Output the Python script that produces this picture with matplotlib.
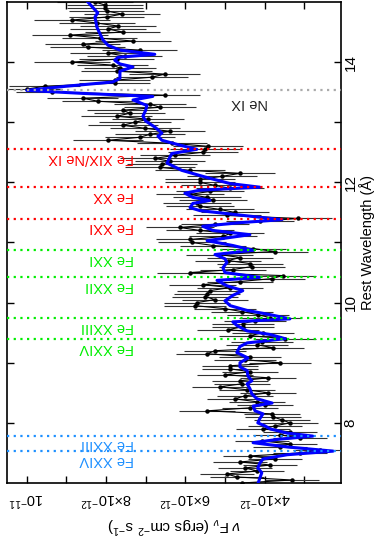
import numpy as np
import matplotlib
matplotlib.use("Agg")
import matplotlib.pyplot as plt

plt.rcParams['font.family'] = ['Liberation Sans', 'DejaVu Sans']
plt.rcParams['mathtext.fontset'] = 'custom'
plt.rcParams['mathtext.rm'] = 'Liberation Sans'
plt.rcParams['mathtext.it'] = 'Liberation Sans:italic'

# observed spectrum, bins of 0.05 A from 7.00 to 15.00, flux in 1e-12 erg/cm2/s
lam_data = np.round(np.arange(7.0, 15.001, 0.05), 2)
flux_data = [
    4.57, 3.31, 4.70, 4.95, 4.19, 4.49, 3.86, 4.62, 3.74, 4.37,   # 7.00-7.45
    3.11, 2.60, 3.61, 3.36, 4.07, 3.11, 3.61, 3.36, 4.04, 3.74,   # 7.50-7.95
    3.36, 3.56, 3.79, 3.81, 5.45, 4.37, 3.99, 4.19, 4.75, 4.49,   # 8.00-8.45
    3.91, 4.44, 5.13, 4.57, 4.62, 3.91, 5.00, 4.37, 4.87, 4.87,   # 8.50-8.95
    3.61, 4.49, 4.37, 5.45, 5.25, 3.79, 4.19, 4.07, 3.48, 4.37,   # 9.00-9.45
    4.04, 4.92, 4.55, 4.55, 4.24, 3.86, 4.17, 4.57, 5.00, 5.76,   # 9.50-9.95
    5.71, 5.25, 5.50, 5.45, 5.38, 4.87, 5.56, 4.62, 3.81, 3.54,   # 10.00-10.45
    5.88, 4.80, 4.32, 4.37, 4.92, 4.62, 5.13, 3.74, 4.29, 5.30,   # 10.50-10.95
    5.83, 5.88, 5.05, 4.87, 5.63, 6.14, 5.25, 4.12, 3.16, 4.95,   # 11.00-11.45
    4.75, 5.13, 5.63, 5.71, 5.30, 5.45, 5.88, 5.38, 4.87, 5.25,   # 11.50-11.95
    5.63, 5.63, 5.08, 4.62, 5.88, 6.64, 6.59, 6.39, 6.77, 6.26,   # 12.00-12.45
    5.56, 5.50, 5.43, 6.34, 7.95, 7.15, 6.89, 6.39, 7.02, 7.58,   # 12.50-12.95
    7.27, 6.94, 7.73, 7.40, 7.58, 6.64, 6.89, 8.21, 8.59, 6.52,   # 13.00-13.45
    9.37, 10.0, 9.55, 7.78, 7.78, 6.84, 6.52, 7.73, 7.65, 7.83,   # 13.50-13.95
    8.86, 7.73, 7.53, 7.95, 7.15, 8.46, 8.59, 7.32, 8.16, 8.91,   # 14.00-14.45
    7.58, 7.95, 7.70, 8.23, 8.86, 7.98, 7.60, 7.98, 8.03, 8.03,   # 14.50-14.95
    8.28,                                                         # 15.00
]
# half-width of the error bars, one value per 1 A range (7-8, 8-9, ... 14-15)
err_per_range = [0.68, 0.70, 0.78, 0.84, 0.86, 0.88, 0.90, 0.95]

# best-fit model
lam_model = [15.00, 14.87, 14.82, 14.75, 14.58, 14.48, 14.37, 14.28, 14.20, 14.13,
             14.08, 14.03, 13.97, 13.92, 13.85, 13.73, 13.67, 13.60, 13.53, 13.48,
             13.43, 13.37, 13.28, 13.20, 13.10, 13.02, 12.92, 12.82, 12.77, 12.70,
             12.62, 12.55, 12.48, 12.42, 12.32, 12.20, 12.08, 11.98, 11.92, 11.87,
             11.82, 11.75, 11.70, 11.65, 11.58, 11.53, 11.48, 11.42, 11.38, 11.33,
             11.27, 11.20, 11.13, 11.03, 10.95, 10.87, 10.80, 10.73, 10.67, 10.58,
             10.50, 10.42, 10.37, 10.28, 10.20, 10.12, 10.03, 9.95, 9.87, 9.80,
             9.73, 9.68, 9.62, 9.53, 9.47, 9.40, 9.33, 9.27, 9.17, 9.08,
             9.00, 8.93, 8.87, 8.78, 8.70, 8.65, 8.57, 8.48, 8.40, 8.33,
             8.28, 8.20, 8.15, 8.07, 8.00, 7.95, 7.90, 7.83, 7.78, 7.73,
             7.67, 7.60, 7.53, 7.47, 7.40, 7.33, 7.25, 7.17, 7.08, 6.98]
flux_model = [8.46, 8.28, 8.21, 8.28, 8.23, 8.16, 8.08, 7.95, 7.65, 6.77,
              7.70, 7.78, 7.65, 7.32, 7.65, 7.65, 7.83, 8.99, 10.0, 8.59,
              6.82, 7.32, 6.97, 7.00, 7.07, 7.00, 6.77, 6.59, 6.69, 6.59,
              6.14, 5.71, 6.34, 6.39, 6.46, 6.09, 5.45, 4.87, 4.12, 5.63,
              6.01, 5.81, 5.38, 5.81, 5.88, 5.63, 4.95, 4.12, 3.56, 4.62,
              5.56, 5.30, 4.37, 5.45, 4.80, 4.29, 5.25, 5.00, 4.95, 5.05,
              5.00, 4.12, 5.20, 4.95, 4.55, 4.80, 5.00, 4.87, 4.44, 3.86,
              3.36, 4.80, 4.70, 4.44, 3.86, 3.48, 4.44, 4.62, 4.70, 4.42,
              4.62, 4.62, 4.44, 4.42, 4.32, 4.44, 4.37, 4.32, 4.19, 3.81,
              4.29, 4.24, 4.04, 4.12, 4.17, 3.99, 3.86, 3.43, 2.78, 3.61,
              4.29, 3.43, 2.27, 3.43, 4.04, 4.12, 4.17, 4.07, 4.12, 4.17]

# line identifications
line_names = ["Ne IX", "Fe XIX/Ne IX", "Fe XX", "Fe XXI", "Fe XXI", "Fe XXII",
              "Fe XXIII", "Fe XXIV", "Fe XXIII", "Fe XXIV"]
line_lams = [13.53, 12.55, 11.92, 11.39, 10.87, 10.42, 9.74, 9.39, 7.78, 7.53]
line_colors = ["#aaaaaa", "#ff0000", "#ff0000", "#ff0000", "#00ee00", "#00ee00",
               "#00ee00", "#00ee00", "#1e90ff", "#1e90ff"]

flux_ticks = [10, 8, 6, 4]
flux_tick_labels = [r"10$^{-11}$", r"8$\times$10$^{-12}$",
                    r"6$\times$10$^{-12}$", r"4$\times$10$^{-12}$"]

fig = plt.figure(figsize=(3.79, 5.56), dpi=100)
ax = fig.add_axes([0.0185, 0.1313, 0.8813, 0.8651])

errs = np.repeat(err_per_range, 20)
errs = np.append(errs, err_per_range[-1])

ax.errorbar(flux_data, lam_data, xerr=errs, fmt='none', ecolor='#333333',
            elinewidth=0.8, capsize=0, zorder=2)
ax.plot(flux_data, lam_data, color='black', lw=0.8, marker='o', ms=2.2, zorder=3)
ax.plot(flux_model, lam_model, color='#0000ff', lw=2.2, solid_joinstyle='round',
        zorder=4)

for name, lam, col in zip(line_names, line_lams, line_colors):
    ax.axhline(lam, color=col, lw=1.6, ls=(0, (1, 2)), zorder=5)
    if name == "Ne IX":
        ax.annotate(name, (3.91, lam), xytext=(0, -4), textcoords='offset points',
                    rotation=180, ha='right', va='top', color='#222222', fontsize=10.5)
    else:
        ax.annotate(name, (7.30, lam), xytext=(0, -1), textcoords='offset points',
                    rotation=180, ha='right', va='top', color=col, fontsize=10.5)

ax.set_xlim(10.5, 2.07)
ax.set_ylim(7.0, 15.0)

ax.set_xticks(flux_ticks, flux_tick_labels)
ax.set_xticks([9, 7, 5, 3], minor=True)
ax.set_yticks([8, 10, 12, 14])
ax.set_yticks([9, 11, 13], minor=True)

ax.yaxis.tick_right()
ax.yaxis.set_label_position('right')
ax.tick_params(which='both', direction='in', top=True, bottom=True, left=True,
               right=True, length=5, width=1)
ax.tick_params(axis='x', labelrotation=180, labelsize=10.5, pad=5)
ax.tick_params(axis='y', labelrotation=90, labelsize=11, pad=2)
for lab in ax.get_yticklabels():
    lab.set_va('center')

ax.set_xlabel(r"$\nu$ F$_\nu$ (ergs cm$^{-2}$ s$^{-1}$)", rotation=180, fontsize=11,
              labelpad=4)
ax.set_ylabel("Rest Wavelength (Å)", rotation=90, fontsize=10.5, labelpad=1)

for sp in ax.spines.values():
    sp.set_linewidth(1.2)

fig.savefig("out.png", dpi=100)
